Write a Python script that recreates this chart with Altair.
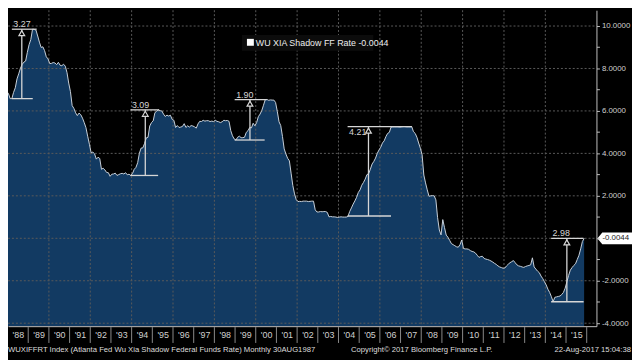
import altair as alt
import pandas as pd

FONT = "Liberation Sans, Arial, sans-serif"
SERIES_NAME = "WU XIA Shadow FF Rate"
START_YEAR, START_MONTH = 1987, 8

# monthly values (Aug 1987 .. Nov 2015)
r1987 = [6.73, 7.22, 7.29, 6.69, 6.77]
r1988 = [6.83, 6.58, 6.58, 6.87, 7.09, 7.51, 7.75, 8.01, 8.19, 8.30, 8.35, 8.76]
r1989 = [9.12, 9.36, 9.85, 9.84, 9.81, 9.53, 9.24, 8.99, 9.02, 8.84, 8.55, 8.45]
r1990 = [8.23, 8.24, 8.28, 8.26, 8.18, 8.29, 8.15, 8.13, 8.20, 8.11, 7.81, 7.31]
r1991 = [6.91, 6.25, 6.12, 5.91, 5.78, 5.90, 5.82, 5.66, 5.45, 5.21, 4.81, 4.43]
r1992 = [4.03, 4.06, 3.98, 3.73, 3.82, 3.76, 3.25, 3.30, 3.22, 3.10, 3.09, 2.92]
r1993 = [3.02, 3.03, 3.07, 2.96, 3.00, 3.04, 3.06, 3.03, 3.09, 2.99, 3.02, 2.96]
r1994 = [3.05, 3.25, 3.34, 3.56, 4.01, 4.25, 4.26, 4.47, 4.73, 4.76, 5.29, 5.45]
r1995 = [5.53, 5.92, 5.98, 6.05, 6.01, 6.00, 5.85, 5.74, 5.80, 5.76, 5.80, 5.60]
r1996 = [5.56, 5.22, 5.31, 5.22, 5.24, 5.27, 5.40, 5.22, 5.30, 5.24, 5.31, 5.29]
r1997 = [5.25, 5.19, 5.39, 5.51, 5.50, 5.56, 5.52, 5.54, 5.54, 5.50, 5.52, 5.50]
r1998 = [5.56, 5.51, 5.49, 5.45, 5.49, 5.56, 5.54, 5.55, 5.51, 5.07, 4.83, 4.68]
r1999 = [4.63, 4.76, 4.81, 4.74, 4.74, 4.76, 4.99, 5.07, 5.22, 5.20, 5.42, 5.30]
r2000 = [5.45, 5.73, 5.85, 6.02, 6.27, 6.53, 6.54, 6.50, 6.52, 6.51, 6.51, 6.40]
r2001 = [5.98, 5.49, 5.31, 4.80, 4.21, 3.97, 3.77, 3.65, 3.07, 2.49, 2.09, 1.82]
r2002 = [1.73, 1.74, 1.73, 1.75, 1.75, 1.75, 1.73, 1.74, 1.75, 1.75, 1.34, 1.24]
r2003 = [1.24, 1.26, 1.25, 1.26, 1.26, 1.22, 1.01, 1.03, 1.01, 1.01, 1.00, 0.98]
r2004 = [1.00, 1.01, 1.00, 1.00, 1.00, 1.03, 1.26, 1.43, 1.61, 1.76, 1.93, 2.16]
r2005 = [2.28, 2.50, 2.63, 2.79, 3.00, 3.04, 3.26, 3.50, 3.62, 3.78, 4.00, 4.16]
r2006 = [4.29, 4.49, 4.59, 4.79, 4.94, 4.99, 5.24, 5.25, 5.25, 5.25, 5.25, 5.24]
r2007 = [5.25, 5.26, 5.26, 5.25, 5.25, 5.25, 5.26, 5.02, 4.94, 4.76, 4.49, 4.24]
r2008 = [3.94, 2.98, 2.61, 2.28, 1.98, 2.00, 2.01, 2.00, 1.81, 0.97, 0.39, 0.16]
r2009 = [0.88, 0.50, 0.15, 0.05, -0.10, -0.25, -0.30, -0.35, -0.40, -0.42, -0.30, -0.08]
r2010 = [-0.48, -0.50, -0.50, -0.52, -0.58, -0.62, -0.64, -0.70, -0.80, -0.90, -0.86, -0.85]
r2011 = [-0.95, -0.98, -1.00, -1.03, -1.07, -1.12, -1.18, -1.23, -1.30, -1.35, -1.38, -1.41]
r2012 = [-1.40, -1.30, -1.22, -1.15, -1.10, -1.05, -1.15, -1.25, -1.30, -1.32, -1.35, -1.37]
r2013 = [-1.33, -1.30, -1.28, -1.25, -0.92, -1.35, -1.45, -1.55, -1.62, -1.78, -1.90, -2.05]
r2014 = [-2.20, -2.40, -2.55, -2.75, -2.99, -2.78, -2.76, -2.74, -2.72, -2.65, -2.55, -2.35]
r2015 = [-2.05, -1.75, -1.50, -1.38, -1.28, -1.20, -1.00, -0.80, -0.50, -0.15, -0.0044]

rates = (r1987 + r1988 + r1989 + r1990 + r1991 + r1992 + r1993 + r1994 + r1995
         + r1996 + r1997 + r1998 + r1999 + r2000 + r2001 + r2002 + r2003 + r2004
         + r2005 + r2006 + r2007 + r2008 + r2009 + r2010 + r2011 + r2012 + r2013
         + r2014 + r2015)

# measured moves (annotations)
ann_label = ["3.27", "3.09", "1.90", "4.21", "2.98"]
ann_low = [6.58, 2.96, 4.63, 1.05, -2.99]
ann_high = [9.85, 6.05, 6.53, 5.26, -0.0044]
ann_start = [1988.21, 1993.94, 1998.98, 2004.44, 2014.28]
ann_low_end = [1989.22, 1995.28, 2000.43, 2006.54, 2015.85]
ann_high_end = [1989.41, 1995.33, 2000.53, 2007.55, 2015.85]
ann_mid = [1988.69, 1994.66, 1999.72, 2005.45, 2015.04]
ann_pos = ["above", "above", "above", "below", "above"]

year_labels = [y + 0.5 for y in range(1988, 2016)]
year_bounds = list(range(1989, 2017))
y_ticks = list(range(-4, 11))
grid_years = list(range(1990, 2016, 2))
grid_levels = list(range(-4, 11, 2))

footer_left = "WUXIFFRT Index (Atlanta Fed Wu Xia Shadow Federal Funds Rate)  Monthly 30AUG1987"
footer_mid = "Copyright\u00a9 2017 Bloomberg Finance L.P."
footer_right = "22-Aug-2017 15:04:38"

# ---------------------------------------------------------------
t = [START_YEAR + (START_MONTH - 1 + i + 0.5) / 12 for i in range(len(rates))]
series = pd.DataFrame({"t": t, "v": rates})
ann = pd.DataFrame({"label": ann_label, "low": ann_low, "high": ann_high,
                    "start": ann_start, "lo_end": ann_low_end,
                    "hi_end": ann_high_end, "mid": ann_mid, "pos": ann_pos})
last_txt = f"{rates[-1]:.4f}"

W, H = 596, 320
Y_MIN, Y_MAX = -4.14, 10.744
xs = alt.Scale(domain=[1988.023, 2016.471], nice=False, zero=False)
ys = alt.Scale(domain=[Y_MIN, Y_MAX], nice=False, zero=False)
ANN = "#d6d6d6"
GRID = "#5a5a5a"
LBL = "#d0d0d0"

x_axis = alt.Axis(values=year_labels, title=None, ticks=False, grid=False,
                  labelExpr="\"'\" + substring(toString(floor(datum.value)), 2, 4)",
                  labelColor=LBL, labelFont=FONT, labelFontSize=9,
                  labelPadding=4, domainColor="#c0c0c0", domainWidth=1,
                  labelFlush=False, labelOverlap=False, zindex=1)
y_axis = alt.Axis(orient="right", values=y_ticks, title=None, grid=False,
                  tickSize=3, tickColor="#c0c0c0", domainColor="#c0c0c0",
                  labelExpr="(datum.value % 2 == 0 && datum.value != 0) ? replace(format(datum.value, '.4f'), '\u2212', '-') : ''",
                  labelColor=LBL, labelFont=FONT, labelFontSize=8,
                  labelPadding=2, labelFlush=False, labelOverlap=False, zindex=1)


def X(field, **kw):
    return alt.X(field, scale=xs, axis=x_axis, **kw)


def Y(field, **kw):
    return alt.Y(field, scale=ys, axis=y_axis, **kw)


area = alt.Chart(series).mark_area(color="#123a62", clip=True).encode(
    x=X("t:Q"), y=Y("v:Q"), y2=alt.datum(Y_MIN))

grid_h = alt.Chart(pd.DataFrame({"g": grid_levels})).mark_rule(
    color=GRID, strokeDash=[2, 2], strokeWidth=1).encode(
    y=Y("g:Q"), x=alt.value(0), x2=alt.value(W))

grid_v = alt.Chart(pd.DataFrame({"g": grid_years})).mark_rule(
    color=GRID, strokeDash=[2, 2], strokeWidth=1).encode(
    x=X("g:Q"), y=alt.value(0), y2=alt.value(H))

line = alt.Chart(series).mark_line(color="#c9d1da", strokeWidth=1, clip=True).encode(
    x=X("t:Q"), y=Y("v:Q"))

year_sep = alt.Chart(pd.DataFrame({"yr": year_bounds})).mark_rule(
    color="#8a8a8a", strokeWidth=1).encode(
    x=X("yr:Q"), y=alt.value(H + 1), y2=alt.value(H + 17))

ann_base = alt.Chart(ann)
low_line = ann_base.mark_rule(color=ANN, strokeWidth=1.3).encode(
    x=X("start:Q"), x2="lo_end:Q", y=Y("low:Q"))
high_line = ann_base.mark_rule(color=ANN, strokeWidth=1.3).encode(
    x=X("start:Q"), x2="hi_end:Q", y=Y("high:Q"))
vert = ann_base.mark_rule(color=ANN, strokeWidth=1.3).encode(
    x=X("mid:Q"), y=Y("low:Q"), y2="high:Q")
tri = ann_base.mark_point(shape="triangle-up", filled=True, fill="#000000",
                          stroke=ANN, strokeWidth=1.2, size=34, yOffset=4,
                          opacity=1).encode(x=X("mid:Q"), y=Y("high:Q"))
lab_above = ann_base.transform_filter(alt.datum.pos == "above").mark_text(
    font=FONT, fontSize=9, color=ANN, align="left", baseline="alphabetic",
    dx=1.5, dy=-2).encode(x=X("start:Q"), y=Y("high:Q"), text="label:N")
lab_below = ann_base.transform_filter(alt.datum.pos == "below").mark_text(
    font=FONT, fontSize=9, color=ANN, align="left", baseline="top",
    dx=1.5, dy=1).encode(x=X("start:Q"), y=Y("high:Q"), text="label:N")

legend_df = pd.DataFrame({"txt": [f"{SERIES_NAME} {last_txt}"]})
leg_box = alt.Chart(legend_df).mark_rect(color="#0c0c0c").encode(
    x=alt.value(237), x2=alt.value(370), y=alt.value(25), y2=alt.value(41))
leg_sq = alt.Chart(legend_df).mark_square(color="#ffffff", size=49, opacity=1).encode(
    x=alt.value(245.5), y=alt.value(32.5))
leg_txt = alt.Chart(legend_df).mark_text(
    font=FONT, fontSize=9, color="#eeeeee", align="left", baseline="middle").encode(
    x=alt.value(251), y=alt.value(33), text="txt:N")

last_df = pd.DataFrame({"v": [rates[-1]], "txt": [last_txt]})
tag = alt.Chart(last_df).mark_point(
    shape="M-1,0L-0.72,-0.34L1,-0.34L1,0.34L-0.72,0.34Z",
    filled=True, fill="#ffffff", strokeWidth=0, size=1225, opacity=1).encode(
    x=alt.value(614.5), y=Y("v:Q"))
tag_txt = alt.Chart(last_df).mark_text(
    font=FONT, fontSize=8, color="#222222", align="left", baseline="middle").encode(
    x=alt.value(602), y=Y("v:Q"), text="txt:N")

foot_df = pd.DataFrame({"a": [footer_left], "b": [footer_mid], "c": [footer_right]})
foot_l = alt.Chart(foot_df).mark_text(
    font=FONT, fontSize=7.8, color="#dddddd", align="left", baseline="middle").encode(
    x=alt.value(0), y=alt.value(344), text="a:N")
foot_m = alt.Chart(foot_df).mark_text(
    font=FONT, fontSize=7.8, color="#dddddd", align="center", baseline="middle").encode(
    x=alt.value(419), y=alt.value(344), text="b:N")
foot_r = alt.Chart(foot_df).mark_text(
    font=FONT, fontSize=7.8, color="#dddddd", align="right", baseline="middle").encode(
    x=alt.value(631), y=alt.value(344), text="c:N")

chart = alt.layer(
    area, grid_h, grid_v, line, year_sep,
    low_line, high_line, vert, tri, lab_above, lab_below,
    leg_box, leg_sq, leg_txt, tag, tag_txt, foot_l, foot_m, foot_r,
).properties(
    width=W, height=H,
    autosize=alt.AutoSizeParams(type="none"),
    padding={"left": 0, "top": 0, "right": 36, "bottom": 32},
    background="#000000",
).configure_view(strokeWidth=0)

chart.save("out.html", embed_options={"renderer": "svg", "actions": False})
